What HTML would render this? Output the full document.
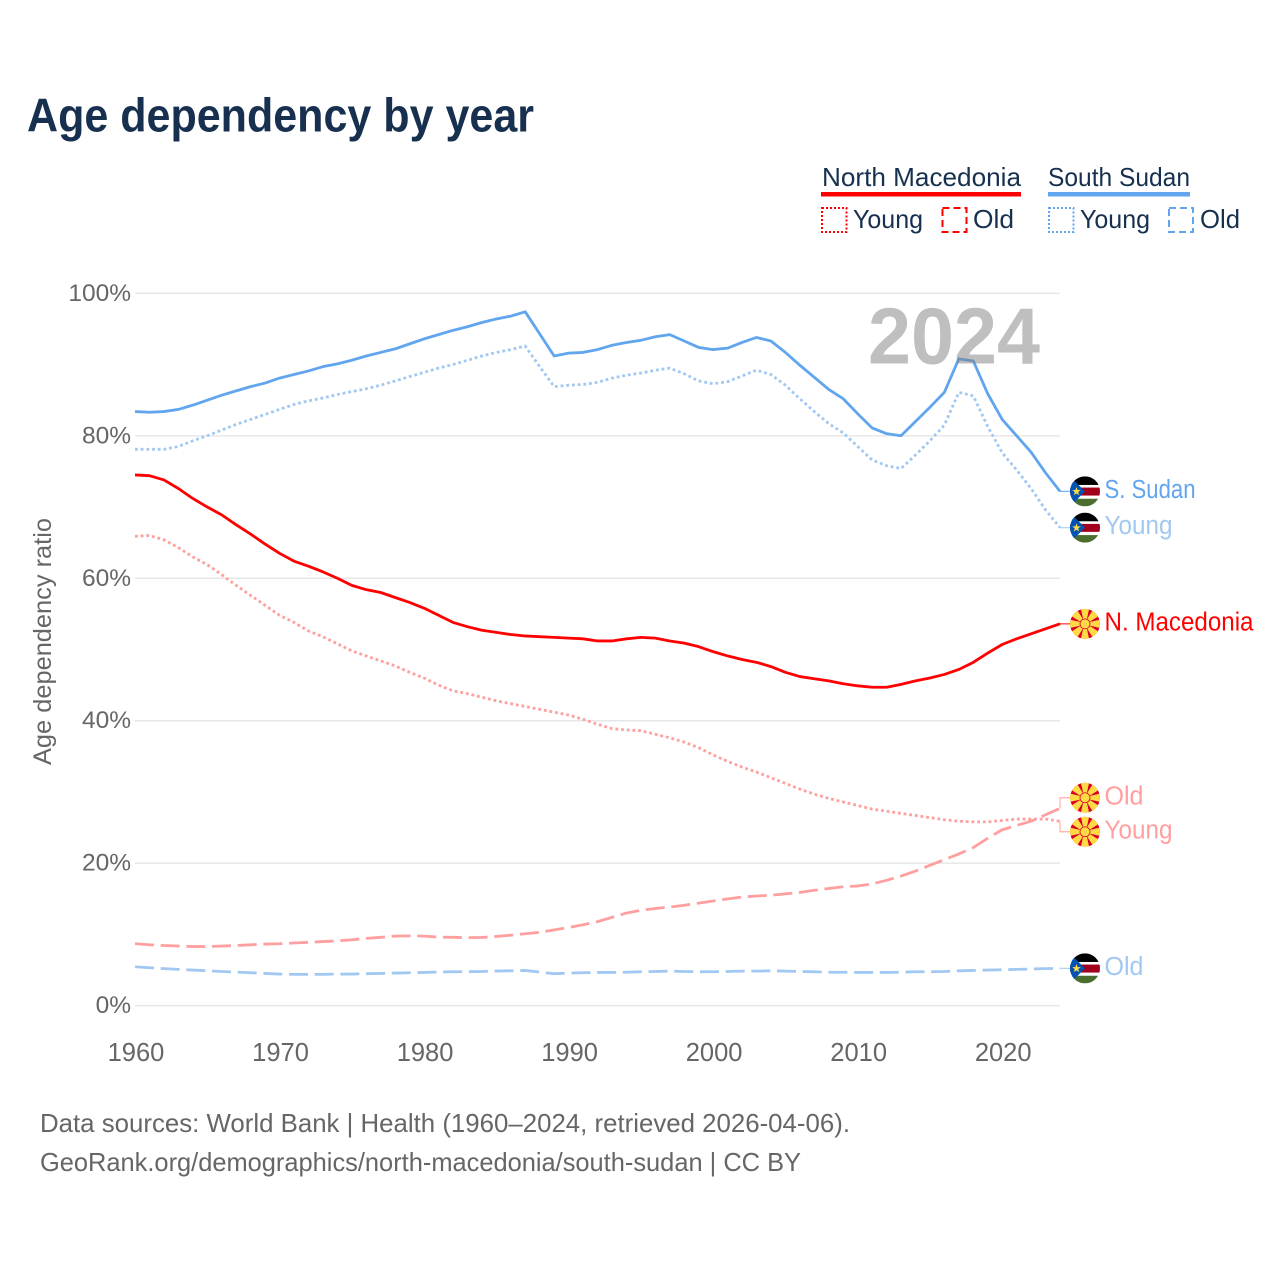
<!DOCTYPE html>
<html lang="en">
<head>
<meta charset="utf-8">
<title>Age dependency by year</title>
<style>
html,body{margin:0;padding:0;background:#fff;width:1280px;height:1280px;overflow:hidden}
svg{display:block}
text{font-family:"Liberation Sans",sans-serif}
</style>
</head>
<body>
<svg id="chart" xmlns="http://www.w3.org/2000/svg" width="1280" height="1280" viewBox="0 0 1280 1280">
  <defs>
    <clipPath id="flag-clip"><circle cx="0" cy="0" r="15"/></clipPath>
    <g id="flag-ss" clip-path="url(#flag-clip)">
      <rect x="-15" y="-15" width="30" height="30" fill="#fff"/>
      <rect x="-15" y="-15" width="30" height="8.6" fill="#000"/>
      <rect x="-15" y="-3.8" width="30" height="8" fill="#a2001d"/>
      <rect x="-15" y="7.4" width="30" height="7.6" fill="#496e2d"/>
      <polygon points="-15,-15 0,0 -15,15" fill="#0052b4"/>
      <polygon points="-8.5,-4.4 -7.4,-1.3 -4.2,-1.3 -6.8,0.7 -5.8,3.8 -8.5,2 -11.2,3.8 -10.2,0.7 -12.8,-1.3 -9.6,-1.3" fill="#ffda44"/>
    </g>
    <g id="ray"><polygon points="-0.8,0 0.8,0 4.2,-15.5 -4.2,-15.5" fill="#ffda44"/></g>
    <g id="flag-mk" clip-path="url(#flag-clip)">
      <circle r="15" fill="#d80027"/>
      <use href="#ray"/><use href="#ray" transform="rotate(45)"/><use href="#ray" transform="rotate(90)"/><use href="#ray" transform="rotate(135)"/>
      <use href="#ray" transform="rotate(180)"/><use href="#ray" transform="rotate(225)"/><use href="#ray" transform="rotate(270)"/><use href="#ray" transform="rotate(315)"/>
      <circle r="5.4" fill="#d80027"/>
      <circle r="4.6" fill="#ffda44"/>
    </g>
  </defs>

  <text x="27" y="131.5" font-size="47" font-weight="700" fill="#17304f" textLength="507" lengthAdjust="spacingAndGlyphs">Age dependency by year</text>

  <g>
    <text x="822" y="186" font-size="26" fill="#17304f" textLength="199" lengthAdjust="spacingAndGlyphs">North Macedonia</text>
    <rect x="821" y="192" width="200" height="4.5" fill="#ff0000"/>
    <rect x="822" y="208" width="24.5" height="24" fill="none" stroke="#ff0000" stroke-width="2" stroke-dasharray="2 2"/>
    <text x="853" y="228" font-size="26" fill="#17304f" textLength="70" lengthAdjust="spacingAndGlyphs">Young</text>
    <rect x="942.5" y="208" width="24" height="24" fill="none" stroke="#ff0000" stroke-width="2" stroke-dasharray="7 4"/>
    <text x="973" y="228" font-size="26" fill="#17304f" textLength="41" lengthAdjust="spacingAndGlyphs">Old</text>

    <text x="1048" y="186" font-size="26" fill="#17304f" textLength="142" lengthAdjust="spacingAndGlyphs">South Sudan</text>
    <rect x="1048" y="192" width="142" height="4.5" fill="#60a5ee"/>
    <rect x="1049" y="208" width="24.5" height="24" fill="none" stroke="#60a5ee" stroke-width="2" stroke-dasharray="2 2"/>
    <text x="1080" y="228" font-size="26" fill="#17304f" textLength="70" lengthAdjust="spacingAndGlyphs">Young</text>
    <rect x="1169" y="208" width="24" height="24" fill="none" stroke="#60a5ee" stroke-width="2" stroke-dasharray="7 4"/>
    <text x="1200" y="228" font-size="26" fill="#17304f" textLength="40" lengthAdjust="spacingAndGlyphs">Old</text>
  </g>

  <g id="grid"></g>
  <g id="y-ticks"></g>
  <g id="x-ticks"></g>
  <text transform="translate(51,765) rotate(-90)" x="0" y="0" font-size="25" fill="#666666" textLength="247" lengthAdjust="spacingAndGlyphs">Age dependency ratio</text>
  <g id="series"></g>
  <g id="leaders"></g>
  <text x="868" y="363.5" font-size="80" font-weight="700" fill="#808080" fill-opacity="0.5" textLength="172" lengthAdjust="spacingAndGlyphs">2024</text>
  <g id="end-labels"></g>

  <text x="40" y="1132" font-size="26" fill="#666666" textLength="810" lengthAdjust="spacingAndGlyphs">Data sources: World Bank | Health (1960–2024, retrieved 2026-04-06).</text>
  <text x="40" y="1171" font-size="26" fill="#666666" textLength="761" lengthAdjust="spacingAndGlyphs">GeoRank.org/demographics/north-macedonia/south-sudan | CC BY</text>
</svg>

<script>
var years = [1960,1961,1962,1963,1964,1965,1966,1967,1968,1969,1970,1971,1972,1973,1974,1975,1976,1977,1978,1979,1980,1981,1982,1983,1984,1985,1986,1987,1988,1989,1990,1991,1992,1993,1994,1995,1996,1997,1998,1999,2000,2001,2002,2003,2004,2005,2006,2007,2008,2009,2010,2011,2012,2013,2014,2015,2016,2017,2018,2019,2020,2021,2022,2023,2024];
var southSudanTotal = [83.4,83.3,83.4,83.7,84.3,85.0,85.7,86.3,86.9,87.4,88.1,88.6,89.1,89.7,90.1,90.6,91.2,91.7,92.2,92.9,93.6,94.2,94.8,95.3,95.9,96.4,96.8,97.4,94.3,91.2,91.6,91.7,92.1,92.7,93.1,93.4,93.9,94.2,93.3,92.4,92.1,92.3,93.1,93.8,93.3,91.7,89.9,88.2,86.5,85.2,83.1,81.1,80.3,80.0,82.0,84.0,86.1,90.8,90.5,85.9,82.3,80.0,77.7,74.8,72.2];
var southSudanYoung = [78.1,78.1,78.1,78.5,79.3,80.0,80.8,81.6,82.3,83.0,83.7,84.4,84.9,85.3,85.8,86.2,86.6,87.1,87.7,88.3,88.9,89.5,90.0,90.6,91.2,91.7,92.1,92.6,89.7,86.9,87.1,87.2,87.5,88.1,88.5,88.8,89.2,89.5,88.7,87.7,87.3,87.6,88.4,89.2,88.6,87.1,85.2,83.4,81.7,80.4,78.5,76.6,75.8,75.4,77.3,79.3,81.5,86.1,85.6,81.3,77.6,75.2,72.6,69.6,67.1];
var southSudanOld = [5.47,5.33,5.2,5.1,5.0,4.9,4.8,4.72,4.63,4.53,4.44,4.4,4.4,4.4,4.44,4.44,4.49,4.53,4.58,4.63,4.67,4.72,4.77,4.77,4.8,4.86,4.9,4.95,4.72,4.49,4.58,4.63,4.67,4.67,4.7,4.77,4.8,4.85,4.8,4.77,4.77,4.8,4.85,4.85,4.9,4.85,4.8,4.77,4.7,4.7,4.67,4.67,4.67,4.7,4.77,4.77,4.8,4.9,4.95,5.0,5.05,5.1,5.15,5.2,5.24];
var northMacedoniaTotal = [74.5,74.4,73.8,72.6,71.2,70.0,68.9,67.5,66.2,64.8,63.5,62.4,61.7,60.9,60.0,59.0,58.4,58.0,57.3,56.6,55.8,54.8,53.8,53.2,52.7,52.4,52.1,51.9,51.8,51.7,51.6,51.5,51.2,51.2,51.5,51.7,51.6,51.2,50.9,50.4,49.7,49.1,48.6,48.2,47.6,46.8,46.2,45.9,45.6,45.2,44.9,44.7,44.7,45.1,45.6,46.0,46.5,47.2,48.2,49.5,50.7,51.5,52.2,52.9,53.6];
var northMacedoniaYoung = [65.9,66.0,65.4,64.3,63.0,61.9,60.5,59.0,57.6,56.2,54.8,53.8,52.6,51.8,50.8,49.8,49.1,48.4,47.7,46.8,46.0,45.0,44.2,43.8,43.3,42.8,42.4,42.0,41.6,41.2,40.8,40.2,39.5,38.9,38.7,38.6,38.1,37.6,37.0,36.2,35.2,34.3,33.5,32.8,32.0,31.2,30.4,29.7,29.1,28.6,28.1,27.6,27.3,27.0,26.7,26.4,26.1,25.9,25.8,25.8,26.0,26.2,26.2,26.2,25.9];
var northMacedoniaOld = [8.7,8.55,8.45,8.37,8.3,8.3,8.37,8.45,8.55,8.65,8.7,8.8,8.9,9.0,9.1,9.25,9.45,9.6,9.77,9.8,9.77,9.63,9.6,9.55,9.58,9.72,9.9,10.1,10.3,10.65,10.98,11.36,11.8,12.4,13.0,13.4,13.65,13.85,14.1,14.4,14.7,15.0,15.25,15.4,15.5,15.7,15.9,16.2,16.45,16.7,16.8,17.1,17.6,18.2,18.9,19.7,20.5,21.3,22.2,23.5,24.7,25.3,25.9,26.8,27.7];
var yTickValues = [0,20,40,60,80,100];
var xTickValues = [1960,1970,1980,1990,2000,2010,2020];

var NS = 'http://www.w3.org/2000/svg';
var PLOT = {left:135, right:1060, top:293.3, bottom:1005.7};
function xScale(year){ return PLOT.left + (year - 1960) * (PLOT.right - PLOT.left) / 64; }
function yScale(value){ return PLOT.bottom - value * (PLOT.bottom - PLOT.top) / 100; }
function mk(tag, attrs, parent){
  var el = document.createElementNS(NS, tag);
  for (var k in attrs) el.setAttribute(k, attrs[k]);
  parent.appendChild(el);
  return el;
}

var gridG = document.getElementById('grid');
var yG = document.getElementById('y-ticks');
yTickValues.forEach(function(v){
  var line = mk('line', {x1:PLOT.left, x2:PLOT.right, y1:yScale(v), y2:yScale(v), stroke:'#e6e6e6', 'stroke-width':1.4}, gridG);
  
  
  var t = mk('text', {x:131, y:yScale(v) + 7.5, 'text-anchor':'end', 'font-size':24.5, fill:'#666666'}, yG);
  
  
  t.textContent = v + '%';
});

var xG = document.getElementById('x-ticks');
xTickValues.forEach(function(y){
  var t = mk('text', {x:xScale(y) + 1, y:1061, 'text-anchor':'middle', 'font-size':25.5, fill:'#666666'}, xG);
  
  
  t.textContent = y;
});

var COLORS = {red:'#ff0000', blue:'#60a5ee', pink:'#ff9f9f', sky:'#a1c8f2'};
var DOT = '2.8 2.9', DASH = '19 6.7';
var seriesList = [
  {key:'north-macedonia-old', values:northMacedoniaOld, color:COLORS.pink, dash:DASH, label:'Old', flag:'#flag-mk'},
  {key:'south-sudan-old', values:southSudanOld, color:COLORS.sky, dash:DASH, label:'Old', flag:'#flag-ss'},
  {key:'north-macedonia-young', values:northMacedoniaYoung, color:COLORS.pink, dash:DOT, label:'Young', flag:'#flag-mk'},
  {key:'south-sudan-young', values:southSudanYoung, color:COLORS.sky, dash:DOT, label:'Young', flag:'#flag-ss'},
  {key:'north-macedonia-total', values:northMacedoniaTotal, color:COLORS.red, dash:'', label:'N. Macedonia', flag:'#flag-mk'},
  {key:'south-sudan-total', values:southSudanTotal, color:COLORS.blue, dash:'', label:'S. Sudan', flag:'#flag-ss'}
];

var seriesG = document.getElementById('series');
seriesList.forEach(function(s){
  var d = s.values.map(function(v, i){
    return (i ? 'L' : 'M') + xScale(years[i]).toFixed(2) + ' ' + yScale(v).toFixed(2);
  }).join(' ');
  var attrs = {d:d, fill:'none', stroke:s.color, 'stroke-width':2.8, 'stroke-linejoin':'round'};
  if (s.dash) attrs['stroke-dasharray'] = s.dash;
  var path = mk('path', attrs, seriesG);
  
  
});

var MIN_GAP = 34;
var ends = seriesList.map(function(s){
  var yEnd = yScale(s.values[s.values.length - 1]);
  return {s:s, yEnd:yEnd, yLabel:yEnd};
}).sort(function(a, b){ return a.yEnd - b.yEnd; });
for (var i = 1; i < ends.length; i++) {
  var gap = ends[i].yLabel - ends[i-1].yLabel;
  if (gap < MIN_GAP) {
    var mid = (ends[i].yLabel + ends[i-1].yLabel) / 2;
    ends[i-1].yLabel = mid - MIN_GAP / 2;
    ends[i].yLabel = mid + MIN_GAP / 2;
  }
}

var leadG = document.getElementById('leaders');
var labelG = document.getElementById('end-labels');
ends.forEach(function(e){
  var s = e.s;
  var leader = mk('path', {d:'M' + PLOT.right + ' ' + e.yEnd + ' L' + PLOT.right + ' ' + e.yLabel + ' L' + (PLOT.right + 12) + ' ' + e.yLabel, fill:'none', stroke:s.color, 'stroke-width':1.2, 'stroke-opacity':0.85}, leadG);
  
  
  var flag = mk('use', {href:s.flag, transform:'translate(1085,' + e.yLabel + ')'}, labelG);
  
  
  var t = mk('text', {x:1104.5, y:e.yLabel + 6.5, 'font-size':25.5, fill:s.color}, labelG);
  
  
  t.textContent = s.label;
  var widthByLabel = {'S. Sudan':91, 'Young':68, 'Old':39, 'N. Macedonia':149};
  t.setAttribute('textLength', widthByLabel[s.label]);
  t.setAttribute('lengthAdjust', 'spacingAndGlyphs');
});
</script>
</body>
</html>
